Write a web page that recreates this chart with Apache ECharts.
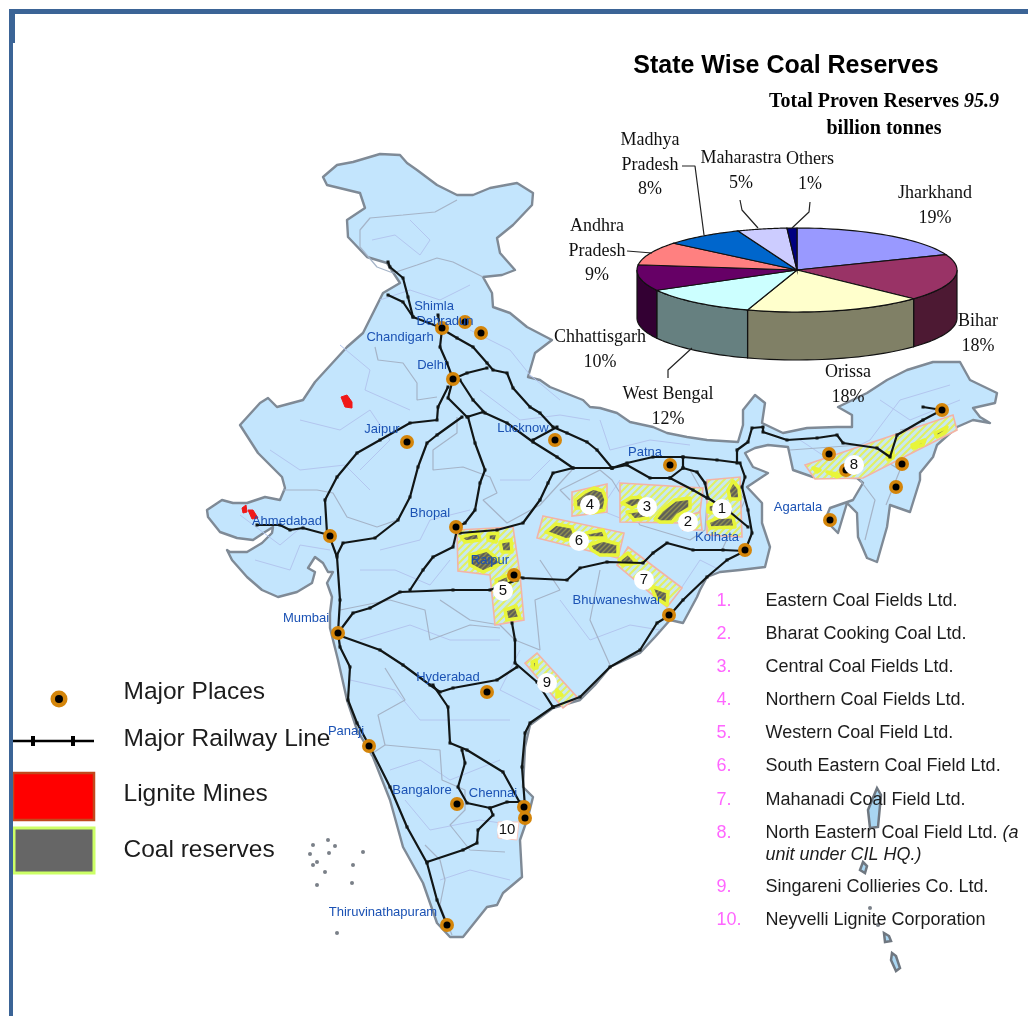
<!DOCTYPE html>
<html>
<head>
<meta charset="utf-8">
<title>State Wise Coal Reserves</title>
<style>html,body{margin:0;padding:0;background:#fff}#main{width:1028px;height:1016px}</style>
<script src="https://cdn.jsdelivr.net/npm/echarts@6/dist/echarts.min.js"></script>
</head>
<body>
<div id="main"></div>
<script>
// pie values, clockwise from the top of the pie
var pieNames = ['Jharkhand','Bihar','Orissa','West Bengal','Chhattisgarh','Andhra Pradesh','Madhya Pradesh','Maharastra','Others'];
var pieValues = [19,18,18,12,10,9,8,5,1];
var pieColors = ['#9999ff','#993366','#ffffcc','#ccffff','#660066','#ff8080','#0066cc','#ccccff','#000080'];
var pieWalls = ['#4d4d80','#4d1933','#808066','#668080','#330033','#804040','#003366','#666680','#000040'];
var pieLabels = ['Jharkhand\n19%','Bihar\n18%','Orissa\n18%','West Bengal\n12%','Chhattisgarh\n10%','Andhra\nPradesh\n9%','Madhya\nPradesh\n8%','Maharastra\n5%','Others\n1%'];
var pieLabelAt = [[935,206],[978,334],[848,385],[668,407],[600,350],[597,251],[650,165],[741,171],[810,172]];
var pieLeaders = [
    [[682,166],[695,166],[704,235]],
    [[740,200],[742,210],[758,228]],
    [[810,202],[809,212],[792,228]],
    [[627,251],[652,253]],
    [[668,378],[668,370],[692,348]]
];

var companies = ['Eastern Coal Fields Ltd.','Bharat Cooking Coal Ltd.','Central Coal Fields Ltd.','Northern Coal Fields Ltd.','Western Coal Field Ltd.','South Eastern Coal Field Ltd.','Mahanadi Coal Field Ltd.','North Eastern Coal Field Ltd. {i|(a}','Singareni Collieries Co. Ltd.','Neyvelli Lignite Corporation'];
var companyY = [601,634,667,700,733,766,800,833,887,920];

var placeNames = ['Shimla','Dehradun','Chandigarh','Delhi','Jaipur','Lucknow','Patna','Bhopal','Ahmedabad','Mumbai','Raipur','Kolhata','Bhuwaneshwar','Agartala','Hyderabad','Panaji','Bangalore','Chennai','Thiruvinathapuram'];
var placeLabelAt = [[434,306],[445,321],[400,337],[432,365],[382,429],[523,428],[645,452],[430,513],[287,521],[306,618],[490,560],[717,537],[617,600],[798,507],[448,677],[346,731],[422,790],[493,793],[383,912]];
var placeDots = [[453,379],[442,328],[465,322],[481,333],[407,442],[555,440],[670,465],[456,527],[330,536],[338,633],[514,575],[745,550],[669,615],[487,692],[369,746],[457,804],[524,807],[525,818],[447,925],[830,520],[829,454],[846,470],[902,464],[896,487],[942,410]];

var mineNumbers = ['1','2','3','4','5','6','7','8','9','10'];
var mineNumberAt = [[722,509],[688,522],[647,507],[590,505],[503,591],[579,541],[644,580],[854,465],[547,683],[507,830]];

// map geometry in picture units
var indiaOutline = [[323,177],[337,165],[353,162],[380,154],[400,155],[407,163],[417,170],[437,185],[457,195],[473,195],[490,188],[517,183],[533,193],[532,205],[513,225],[497,238],[500,253],[515,270],[502,275],[483,277],[492,293],[493,307],[510,313],[527,327],[552,340],[535,353],[528,377],[540,380],[550,387],[583,400],[590,407],[600,408],[617,413],[630,422],[653,427],[667,433],[687,437],[707,440],[738,442],[743,425],[743,410],[755,395],[765,403],[762,423],[783,433],[807,428],[837,427],[852,427],[852,415],[838,407],[867,393],[887,380],[907,370],[933,362],[960,362],[970,380],[997,393],[995,403],[973,408],[980,417],[990,423],[973,420],[957,427],[937,445],[933,457],[920,473],[920,480],[910,512],[890,505],[887,527],[877,562],[867,558],[858,537],[857,513],[847,503],[838,533],[825,520],[830,508],[853,500],[863,483],[857,478],[813,477],[793,470],[788,447],[768,445],[755,448],[745,453],[753,467],[768,473],[747,487],[762,503],[762,523],[770,547],[765,567],[740,570],[720,572],[707,577],[700,590],[697,597],[683,623],[670,620],[655,637],[640,653],[610,667],[595,685],[580,700],[553,708],[530,725],[525,747],[523,787],[533,797],[528,817],[520,840],[522,877],[503,893],[497,905],[487,907],[463,937],[450,937],[437,923],[423,883],[403,847],[390,800],[373,757],[357,730],[347,700],[338,660],[333,640],[330,628],[330,613],[332,597],[327,583],[333,572],[328,572],[323,563],[315,557],[308,568],[315,572],[312,583],[297,592],[278,597],[262,590],[247,577],[232,560],[227,550],[230,552],[247,552],[262,543],[272,533],[273,527],[265,532],[253,540],[237,538],[220,532],[208,517],[207,510],[222,500],[233,503],[247,503],[265,497],[280,500],[285,488],[282,477],[258,453],[240,425],[260,403],[268,398],[277,407],[303,400],[315,382],[347,347],[363,333],[383,293],[400,283],[387,263],[367,257],[348,237],[347,220],[365,208],[360,193],[327,185]];
var islandShapes = [
    [[877,788],[881,795],[878,827],[870,828],[868,810]],
    [[863,862],[867,866],[865,873],[860,870]],
    [[892,953],[896,956],[900,968],[896,971],[891,960]],
    [[884,933],[889,936],[891,941],[885,942]]
];
var islandDots = [[313,845],[328,840],[335,846],[310,854],[329,853],[363,852],[317,862],[313,865],[353,865],[325,872],[317,885],[352,883],[337,933],[870,908],[878,925]];

// state lines (grey) and district lines (pale)
var stateLines = [
    [[457,200],[435,212],[403,215],[370,218],[360,230],[360,247],[377,267],[393,273],[417,265],[437,258],[453,262],[483,277]],
    [[375,347],[378,360],[403,363],[417,383],[417,400],[437,397]],
    [[283,490],[317,490],[333,493],[347,517],[377,527],[397,520]],
    [[457,417],[457,433],[433,450],[433,470],[463,467],[490,477],[497,493],[483,500],[507,523],[540,505],[572,470]],
    [[570,500],[560,490],[600,470],[612,480],[640,525],[690,540],[705,530],[707,500],[690,470]],
    [[540,560],[560,590],[535,600],[540,650],[515,640],[500,625],[470,620],[440,600]],
    [[600,570],[590,620],[610,665]],
    [[340,610],[390,600],[425,610],[430,640],[470,625],[500,628]],
    [[385,668],[405,700],[378,715],[385,745],[370,755]],
    [[385,745],[440,750],[442,780],[465,790],[465,810],[450,825],[470,850],[505,852]],
    [[425,845],[440,860],[445,880],[440,905],[452,935]],
    [[790,450],[860,445],[900,470],[886,505]],
    [[860,480],[875,500],[865,540]],
    [[900,430],[925,425],[945,430]],
    [[730,480],[745,500],[722,550]]
];
var districtLines = [
    [[372,240],[395,235],[420,255],[430,240],[410,220]],
    [[380,300],[410,290],[440,300],[470,285]],
    [[300,420],[340,430],[370,410],[390,440],[360,470]],
    [[270,450],[300,470],[345,465],[370,490]],
    [[340,345],[370,370],[365,390],[410,410]],
    [[470,330],[510,350],[530,375],[560,400]],
    [[480,390],[520,420],[560,415],[590,420]],
    [[600,420],[610,450],[650,440],[690,445]],
    [[380,550],[420,540],[430,520],[470,510]],
    [[360,570],[395,570],[430,585],[450,560]],
    [[500,480],[530,480],[550,460]],
    [[240,515],[280,545],[310,520]],
    [[255,560],[290,570],[300,545],[330,550]],
    [[360,640],[410,625],[450,640],[500,640]],
    [[350,680],[395,690],[420,720],[470,720],[510,720]],
    [[390,770],[420,760],[450,780],[500,760]],
    [[405,800],[430,830],[480,820],[515,825]],
    [[440,880],[470,870],[510,880]],
    [[560,600],[590,640],[630,625],[660,630]],
    [[520,650],[500,690],[540,710]],
    [[620,480],[600,510],[625,520]],
    [[720,570],[700,560],[680,590]],
    [[800,440],[830,460],[870,440],[900,400],[950,385]],
    [[880,400],[910,420],[960,400]]
];

var railLines = [
    [[388,262],[390,267],[403,278],[408,297],[413,317],[442,328]],
    [[388,295],[403,302],[413,317]],
    [[442,329],[440,347],[447,363],[453,379]],
    [[438,315],[440,327]],
    [[442,329],[457,338],[473,347],[487,363],[493,370],[507,373],[513,388],[530,407],[540,413],[553,427],[567,433],[587,442],[597,450],[612,468]],
    [[453,379],[467,373],[487,368]],
    [[453,379],[460,380],[473,400],[485,413],[507,423],[533,442],[557,457],[573,468]],
    [[533,440],[557,427]],
    [[453,379],[448,398],[467,417],[483,412]],
    [[448,387],[438,407],[437,420],[410,423],[380,440],[357,453],[337,477],[325,500],[327,533]],
    [[329,535],[303,528],[290,530],[280,525],[257,525]],
    [[462,417],[437,435],[427,443],[418,467],[410,497],[398,520],[375,538],[343,543],[337,555]],
    [[329,535],[337,557],[340,600],[338,633]],
    [[468,417],[475,443],[485,470],[480,483],[475,510],[465,523],[457,527]],
    [[612,468],[573,468],[553,473],[548,483],[540,500],[523,523],[497,530],[460,533]],
    [[612,468],[627,463],[653,457],[683,457],[717,460],[740,463],[745,477],[742,487],[748,510],[752,533],[745,551]],
    [[737,463],[737,450],[748,442],[752,428],[763,427],[763,432],[787,440],[817,438],[837,435],[843,443],[877,448],[890,457],[897,435],[923,420],[942,410],[923,407]],
    [[612,468],[627,465],[650,478],[670,478],[693,490],[707,498]],
    [[670,478],[683,468],[697,472],[705,483],[708,498],[730,512],[748,527]],
    [[683,457],[683,468]],
    [[745,551],[723,550],[693,550],[667,543],[653,553],[643,563],[607,562],[580,568],[567,580],[523,578],[513,575]],
    [[517,580],[490,590],[453,590],[400,592],[370,608],[353,613],[338,633]],
    [[457,530],[453,547],[433,557],[423,570],[410,590]],
    [[512,623],[515,640],[515,663],[537,682],[553,707]],
    [[517,667],[497,680],[453,688],[440,692],[430,685],[403,665],[380,650],[338,635]],
    [[433,685],[448,707],[450,743],[467,750],[503,772],[520,803]],
    [[462,750],[465,763],[458,787],[467,803],[490,808],[507,802],[520,802]],
    [[490,808],[493,815],[478,830],[477,843],[463,850],[427,862]],
    [[553,707],[530,723],[525,733],[522,767],[525,807],[525,818]],
    [[553,707],[580,697],[610,667],[640,650],[657,623],[670,615],[683,600],[707,577],[727,560],[745,551]],
    [[338,633],[340,647],[350,667],[348,700],[357,723],[370,747],[390,787],[407,827],[427,863],[437,900],[447,925]]
];

var coalZones = [
    [[457,530],[513,527],[520,575],[524,620],[495,625],[490,575],[458,571]],
    [[572,492],[607,484],[607,512],[572,516]],
    [[620,483],[703,488],[700,512],[682,523],[620,522]],
    [[683,517],[700,512],[702,530],[683,530]],
    [[707,480],[740,477],[742,537],[707,535]],
    [[543,516],[624,533],[618,558],[537,538]],
    [[628,547],[682,588],[667,607],[617,565]],
    [[537,653],[577,697],[563,708],[525,663]],
    [[805,465],[953,415],[957,430],[863,478],[815,479]]
];
var coalPatches = [
    [[728,490],[733,481],[739,488],[740,499],[730,499]],
    [[708,522],[720,517],[733,517],[735,527],[710,528]],
    [[708,505],[716,503],[716,513],[708,512]],
    [[655,519],[662,510],[675,500],[690,498],[690,508],[678,515],[672,522],[660,522]],
    [[622,503],[630,498],[640,497],[643,503],[632,508]],
    [[627,512],[642,510],[648,518],[634,520]],
    [[575,500],[585,492],[594,488],[603,491],[606,500],[604,510],[592,513],[586,508],[576,508]],
    [[546,532],[556,524],[572,527],[576,538],[566,540],[553,535]],
    [[589,545],[603,540],[618,544],[618,555],[600,555],[592,550]],
    [[586,533],[603,530],[606,538],[588,538]],
    [[619,560],[628,553],[637,563],[622,565]],
    [[651,586],[668,592],[667,605],[656,598]],
    [[461,537],[478,532],[480,540],[465,542]],
    [[500,542],[511,540],[512,552],[502,552]],
    [[470,555],[487,550],[502,563],[483,572],[470,565]],
    [[496,580],[508,575],[510,584],[500,595]],
    [[505,610],[516,606],[520,618],[507,620]],
    [[488,534],[498,533],[496,542],[488,540]],
    [[557,690],[562,695],[557,697]],
    [[532,662],[536,660],[537,668],[533,668]],
    [[912,445],[925,440],[923,445],[913,448]],
    [[935,433],[947,427],[945,432],[937,437]],
    [[887,453],[893,452],[893,458],[888,460]],
    [[813,468],[820,470],[817,472]],
    [[827,472],[842,475],[837,477]]
];
var neyvelliTag = [[[498,822],[519,822],[517,840],[498,838]]];
var ligniteMines = [
    [[341,397],[347,395],[352,402],[352,408],[345,407]],
    [[242,508],[246,505],[247,512],[243,513]],
    [[248,510],[253,510],[258,518],[252,519]]
];

// legend on the left
var legendNames = ['Major Places','Major Railway Line','Lignite Mines','Coal reserves'];
var legendY = [692,739,794,850];

function stripes(bg, fg, size, w){
    var c = document.createElement('canvas');
    c.width = c.height = size;
    var g = c.getContext('2d');
    g.fillStyle = bg; g.fillRect(0,0,size,size);
    g.strokeStyle = fg; g.lineWidth = w;
    g.beginPath();
    g.moveTo(-1,1); g.lineTo(1,-1);
    g.moveTo(0,size); g.lineTo(size,0);
    g.moveTo(size-1,size+1); g.lineTo(size+1,size-1);
    g.stroke();
    return {image:c, repeat:'repeat'};
}

// filled polygons in picture units
function polygons(list, style, z){
    return {
        type:'custom', silent:true, z:z, clip:false,
        data:list.map(function(p,i){return [i];}),
        renderItem:function(params, api){
            var pts = list[api.value(0)].map(function(p){return api.coord(p);});
            return {type:'polygon', shape:{points:pts}, style:style};
        }
    };
}

function polyline(list, color, width, z, ticks){
    return list.map(function(pts){
        return {
            type:'line', data:pts, z:z, silent:true, clip:false,
            showSymbol:!!ticks, symbol:'rect', symbolSize:[3,3],
            itemStyle:{color:color},
            lineStyle:{color:color, width:width}, smooth:false
        };
    });
}

var hidden = {color:'transparent', opacity:1};
function dots(points, size, color, z){
    return {type:'scatter', silent:true, z:z, symbolSize:size, itemStyle:{color:color, opacity:1}, data:points};
}
function texts(items, font, z){
    return {
        type:'scatter', silent:true, z:z, clip:false,
        symbolSize:1, itemStyle:hidden,
        data:items.map(function(t){return {value:t[0], name:t[1]};}),
        label:Object.assign({show:true, position:'inside', formatter:'{b}'}, font)
    };
}

var pieCx = 797, pieCy = 270, pieRx = 160, pieRy = 42, pieDepth = 48;
var pieTotal = pieValues.reduce(function(a,b){return a+b;},0);
function pieAngle(n){
    var s = 0;
    for(var i=0;i<n;i++){ s += pieValues[i]; }
    return s/pieTotal*Math.PI*2;
}
function rimPoint(c, a, dy){
    return [c[0]+pieRx*Math.sin(a), c[1]-pieRy*Math.cos(a)+dy];
}

var series = [];
series.push(polygons([indiaOutline], {fill:'#c3e5fd', stroke:'#7f8a96', lineWidth:2.4, lineJoin:'round'}, 1));
series.push(polygons(islandShapes, {fill:'#a9d6f2', stroke:'#6f7780', lineWidth:2.5}, 1));
series.push(dots(islandDots, 4, '#7a8088', 1));
series = series.concat(polyline(districtLines, '#b3c6ef', 1, 2));
series = series.concat(polyline(stateLines, '#a5b4c8', 1.2, 2));
series.push(polygons(coalZones, {fill:stripes('#c8e8f0','#e2f062',7,2), stroke:'#f3b3a6', lineWidth:1.6}, 3));
series.push(polygons(neyvelliTag, {fill:'#fff', stroke:'#f7c8c0', lineWidth:1}, 3));
series.push(polygons(coalPatches, {fill:stripes('#5f5f58','#8f8f50',5,1.4), stroke:'#e8f53a', lineWidth:3.5, lineJoin:'round'}, 3));
series.push(polygons(ligniteMines, {fill:'#f01818', stroke:'#f01818', lineWidth:1}, 3));
series = series.concat(polyline(railLines, '#111616', 2.2, 4, true));
series.push(dots(placeDots, 14, '#d4850a', 5));
series.push(dots(placeDots, 7, '#000', 5));

// number tags on the coal fields
series.push({
    type:'scatter', silent:true, z:6, symbolSize:20, itemStyle:{color:'#fff', opacity:1},
    data:mineNumberAt.map(function(p,i){return {value:p, name:mineNumbers[i]};}),
    label:{show:true, position:'inside', formatter:'{b}', color:'#111', fontFamily:'Liberation Sans', fontSize:15}
});

series.push(texts(placeNames.map(function(n,i){return [placeLabelAt[i],n];}),
    {color:'#1b52b4', fontFamily:'Liberation Sans', fontSize:13}, 7));

// tilted pie: walls first, tops over them
series.push({
    type:'custom', silent:true, z:8, clip:false,
    data:pieValues.map(function(v,i){return [i,v];}),
    renderItem:function(params, api){
        var i = api.value(0), c = api.coord([pieCx,pieCy]);
        var a = Math.max(pieAngle(i), Math.PI/2), b = Math.min(pieAngle(i+1), Math.PI*1.5);
        if(b <= a){ return null; }
        var up = [], down = [];
        for(var t=0;t<=24;t++){
            var r = a+(b-a)*t/24;
            up.push(rimPoint(c,r,0));
            down.unshift(rimPoint(c,r,pieDepth));
        }
        return {type:'polygon', shape:{points:up.concat(down)}, style:{fill:pieWalls[i], stroke:'#111', lineWidth:1.2}};
    }
});
series.push({
    type:'custom', silent:true, z:9, clip:false,
    data:pieValues.map(function(v,i){return [i,v];}),
    renderItem:function(params, api){
        var i = api.value(0), c = api.coord([pieCx,pieCy]);
        var a = pieAngle(i), b = pieAngle(i+1), pts = [c];
        for(var t=0;t<=32;t++){
            pts.push(rimPoint(c,a+(b-a)*t/32,0));
        }
        return {type:'polygon', shape:{points:pts}, style:{fill:pieColors[i], stroke:'#111', lineWidth:1.2}};
    }
});
series = series.concat(polyline(pieLeaders, '#222', 1.2, 9));
series.push({
    type:'scatter', silent:true, z:10, symbolSize:1, itemStyle:hidden,
    data:pieLabels.map(function(t,i){return {value:pieLabelAt[i], name:t};}),
    label:{show:true, position:'inside', formatter:'{b}', color:'#111', fontFamily:'Liberation Serif', fontSize:18, lineHeight:24.5}
});

// titles
series.push(texts([[[786,66],'State Wise Coal Reserves']],
    {color:'#000', fontFamily:'Liberation Sans', fontWeight:'bold', fontSize:25}, 10));
series.push({
    type:'scatter', silent:true, z:10, symbolSize:1, itemStyle:hidden,
    data:[{value:[884,102], name:'{b|Total Proven Reserves }{bi|95.9}'},{value:[884,129], name:'{b|billion tonnes}'}],
    label:{show:true, position:'inside', formatter:'{b}', rich:{
        b:{fontFamily:'Liberation Serif', fontWeight:'bold', fontSize:20, color:'#000'},
        bi:{fontFamily:'Liberation Serif', fontWeight:'bold', fontStyle:'italic', fontSize:20, color:'#000'}
    }}
});

// company list
series.push({
    type:'scatter', silent:true, z:10, symbolSize:1, itemStyle:hidden,
    data:companyY.map(function(y,i){return {value:[716,y], name:(i+1)+'.'};}),
    label:{show:true, position:'right', distance:0, formatter:'{b}', color:'#ff66ff', fontFamily:'Liberation Sans', fontSize:18}
});
series.push({
    type:'scatter', silent:true, z:10, symbolSize:1, itemStyle:hidden,
    data:companies.map(function(n,i){return {value:[765,companyY[i]], name:n};}),
    label:{show:true, position:'right', distance:0, formatter:'{b}', color:'#1c1c1c', fontFamily:'Liberation Sans', fontSize:18,
        rich:{i:{fontFamily:'Liberation Sans', fontStyle:'italic', fontSize:18, color:'#1c1c1c'}}}
});
series.push({
    type:'scatter', silent:true, z:10, symbolSize:1, itemStyle:hidden,
    data:[{value:[765,855], name:'unit under CIL HQ.)'}],
    label:{show:true, position:'right', distance:0, formatter:'{b}', color:'#1c1c1c', fontFamily:'Liberation Sans', fontStyle:'italic', fontSize:18}
});

// legend marks
series.push(dots([[59,699]], 17, '#d4850a', 5));
series.push(dots([[59,699]], 8, '#000', 5));
series.push({
    type:'line', silent:true, z:5, clip:false,
    data:[{value:[12,741], symbol:'none'},[33,741],[73,741],{value:[94,741], symbol:'none'}],
    symbol:'rect', symbolSize:[4,10], showSymbol:true,
    itemStyle:{color:'#000'}, lineStyle:{color:'#000', width:2.4}
});
series.push(polygons([[[13,773],[94,773],[94,820],[13,820]]], {fill:'#ff0000', stroke:'#c2481c', lineWidth:2.5}, 5));
series.push(polygons([[[14,828],[94,828],[94,873],[14,873]]], {fill:'#666666', stroke:'#ccff66', lineWidth:3}, 5));
series.push({
    type:'scatter', silent:true, z:6, symbolSize:1, itemStyle:hidden,
    data:legendNames.map(function(n,i){return {value:[123,legendY[i]], name:n};}),
    label:{show:true, position:'right', distance:0, formatter:'{b}', color:'#1c1c1c', fontFamily:'Liberation Sans', fontSize:24.5}
});

// frame of the slide
series = series.concat(polyline([[[12,11.5],[1028,11.5]]], '#3b6496', 5, 11));
series = series.concat(polyline([[[12,9],[12,43]]], '#3b6496', 6, 11));
series = series.concat(polyline([[[11,43],[11,1016]]], '#3b6496', 4, 11));

var myChart = echarts.init(document.getElementById('main'));
myChart.setOption({
    animation:false,
    backgroundColor:'#fff',
    grid:{left:0, right:0, top:0, bottom:0},
    xAxis:{type:'value', min:0, max:1028, show:false},
    yAxis:{type:'value', min:0, max:1016, inverse:true, show:false},
    series:series
});
</script>
</body>
</html>
